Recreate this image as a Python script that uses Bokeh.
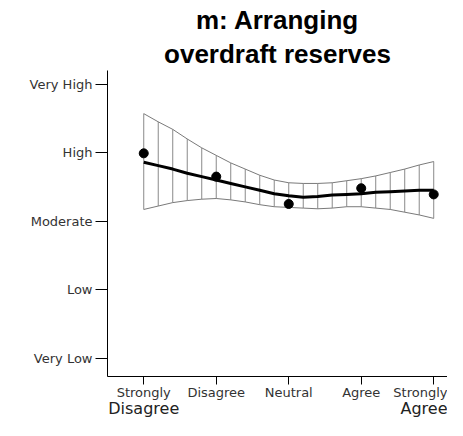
from bokeh.plotting import figure
from bokeh.models import LinearAxis, FixedTicker, Title, Range1d, ColumnDataSource
from bokeh.embed import file_html
from bokeh.resources import INLINE

# ---- data ----
title_lines = ["m: Arranging", "overdraft reserves"]
y_levels = [1, 2, 3, 4, 5]
y_labels = ["Very Low", "Low", "Moderate", "High", "Very High"]
x_levels = [1, 2, 3, 4, 5]
x_labels_top = ["Strongly", "Disagree", "Neutral", "Agree", "Strongly"]
x_labels_bottom = {1: "Disagree", 5: "Agree"}

# observed means
obs_x = [1, 2, 3, 4, 5]
obs_y = [3.99, 3.65, 3.25, 3.48, 3.39]

# smoothed fit with confidence band
fit_x = [1.0, 1.2, 1.4, 1.6, 1.8, 2.0, 2.2, 2.4, 2.6, 2.8, 3.0,
         3.2, 3.4, 3.6, 3.8, 4.0, 4.2, 4.4, 4.6, 4.8, 5.0]
fit_y = [3.86, 3.81, 3.76, 3.70, 3.65, 3.60, 3.55, 3.50, 3.45, 3.40, 3.37,
         3.35, 3.36, 3.38, 3.39, 3.40, 3.42, 3.43, 3.44, 3.45, 3.45]
band_upper = [4.57, 4.45, 4.34, 4.20, 4.07, 3.96, 3.85, 3.76, 3.67, 3.60, 3.56,
              3.55, 3.55, 3.56, 3.59, 3.62, 3.66, 3.71, 3.76, 3.82, 3.87]
band_lower = [3.17, 3.22, 3.27, 3.30, 3.32, 3.33, 3.31, 3.28, 3.24, 3.21, 3.20,
              3.19, 3.18, 3.19, 3.21, 3.21, 3.19, 3.17, 3.13, 3.09, 3.04]

label_font = "DejaVu Sans"
title_font = "Liberation Sans"

p = figure(width=447, height=420,
           x_range=Range1d(0.5, 5.19), y_range=Range1d(0.73, 5.2),
           output_backend="svg", toolbar_location=None,
           min_border_left=107, min_border_right=0,
           min_border_top=70, min_border_bottom=44,
           title=title_lines[0])
p.outline_line_color = None
p.grid.visible = False
p.background_fill_color = "white"
p.border_fill_color = "white"

p.title.align = "center"
p.title.text_font = title_font
p.title.text_font_size = "26px"
p.title.text_font_style = "bold"
p.title.text_color = "black"
p.title.standoff = 0
t2 = Title(text=title_lines[1], align="center", text_font=title_font,
           text_font_size="26px", text_font_style="bold", text_color="black",
           standoff=4)
p.add_layout(t2, "above")

# band
src = ColumnDataSource(dict(x=fit_x, y=fit_y, lo=band_lower, hi=band_upper))
p.segment(x0="x", y0="lo", x1="x", y1="hi", source=src,
          line_color="#8a8a8a", line_width=1)
p.line(x="x", y="hi", source=src, line_color="#7a7a7a", line_width=1)
p.line(x="x", y="lo", source=src, line_color="#7a7a7a", line_width=1)
p.line(x="x", y="y", source=src, line_color="black", line_width=3)
p.scatter(x=obs_x, y=obs_y, size=9, color="black")

# y axis
ya = p.yaxis[0]
ya.ticker = FixedTicker(ticks=y_levels)
ya.major_label_overrides = {v: l for v, l in zip(y_levels, y_labels)}
ya.major_label_text_font = label_font
ya.major_label_text_font_size = "13px"
ya.major_label_text_color = "#333333"
ya.major_tick_out = 12
ya.major_tick_in = 0
ya.minor_tick_line_color = None
ya.major_label_standoff = 3
ya.axis_line_color = "black"
ya.major_tick_line_color = "black"

# x axis
xa = p.xaxis[0]
xa.ticker = FixedTicker(ticks=x_levels)
xa.major_label_overrides = {v: l for v, l in zip(x_levels, x_labels_top)}
xa.major_label_text_font = label_font
xa.major_label_text_font_size = "13px"
xa.major_label_text_color = "#333333"
xa.major_tick_out = 8
xa.major_tick_in = 0
xa.minor_tick_line_color = None
xa.major_label_standoff = 0
xa.axis_line_color = "black"
xa.major_tick_line_color = "black"

xb = LinearAxis(ticker=FixedTicker(ticks=list(x_labels_bottom.keys())),
                major_label_overrides=x_labels_bottom,
                axis_line_color=None, major_tick_line_color=None,
                minor_tick_line_color=None, major_tick_out=0, major_tick_in=0,
                major_label_standoff=-4,
                major_label_text_font=label_font,
                major_label_text_font_size="16px",
                major_label_text_color="#222222")
p.add_layout(xb, "below")

open("out.html", "w").write(file_html(p, INLINE))
